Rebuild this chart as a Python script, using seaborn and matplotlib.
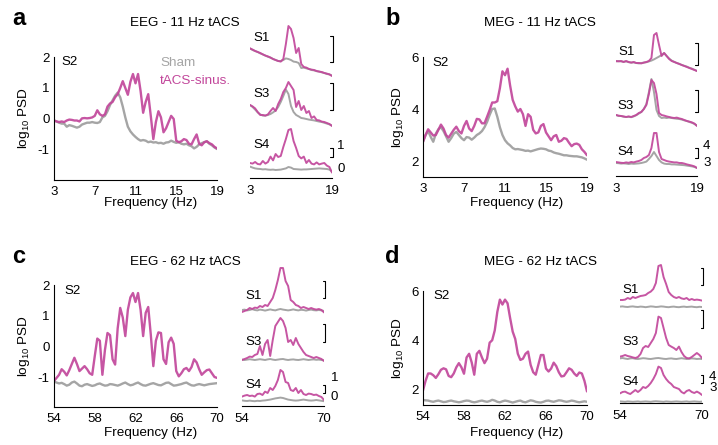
import numpy as np
import matplotlib
matplotlib.use("Agg")
import matplotlib.pyplot as plt
import seaborn as sns

sns.set_style("white")
plt.rcParams['font.family'] = ['Liberation Sans', 'DejaVu Sans']
plt.rcParams['mathtext.fontset'] = 'custom'
plt.rcParams['mathtext.rm'] = 'Liberation Sans'
plt.rcParams['mathtext.it'] = 'Liberation Sans:italic'
plt.rcParams['axes.unicode_minus'] = False
plt.rcParams['text.color'] = 'black'
plt.rcParams['axes.labelcolor'] = 'black'
plt.rcParams['xtick.color'] = 'black'
plt.rcParams['ytick.color'] = 'black'

# ---------------- data ----------------
freq_alpha = np.linspace(3, 19, 65)      # 0.25 Hz grid, main panels a/b
freq_gamma = np.linspace(54, 70, 65)     # 0.25 Hz grid, main panels c/d
freq_alpha_in = np.linspace(3, 19, 33)   # 0.5 Hz grid, insets
freq_gamma_in = np.linspace(54, 70, 33)

# panel a (EEG 11 Hz, S2)
a_tacs = [-0.05, -0.08, -0.10, -0.08, -0.10, -0.05, -0.02, -0.03,
          -0.05, -0.05, -0.08, 0.02, 0.03, 0.02, 0.03, 0.05,
          0.10, 0.28, 0.15, 0.10, 0.15, 0.40, 0.50, 0.55,
          0.70, 0.80, 1.00, 1.22, 1.00, 0.78, 1.20, 1.45,
          1.15, 1.45, 0.90, 0.20, 0.55, 0.80, 0.10, -0.65,
          -0.10, 0.25, 0.05, -0.43, -0.30, -0.10, 0.10, 0.00,
          -0.70, -0.75, -0.72, -0.65, -0.68, -0.80, -0.82, -0.65,
          -0.50, -0.80, -0.85, -0.75, -0.72, -0.78, -0.82, -0.90,
          -0.95]
a_sham = [-0.05, -0.08, -0.12, -0.15, -0.15, -0.25, -0.20, -0.22,
          -0.25, -0.28, -0.25, -0.18, -0.15, -0.12, -0.12, -0.10,
          -0.12, -0.13, -0.10, 0.05, 0.10, 0.25, 0.45, 0.60,
          0.75, 0.85, 0.70, 0.40, 0.05, -0.25, -0.40, -0.50,
          -0.58, -0.65, -0.70, -0.68, -0.70, -0.75, -0.73, -0.76,
          -0.75, -0.78, -0.77, -0.80, -0.76, -0.75, -0.70, -0.74,
          -0.77, -0.75, -0.80, -0.82, -0.80, -0.85, -0.88, -0.95,
          -0.90, -0.82, -0.78, -0.75, -0.72, -0.80, -0.85, -0.92,
          -0.97]

# panel b (MEG 11 Hz, S2)
b_tacs = [2.74, 3.00, 3.22, 3.10, 2.98, 3.00, 3.20, 3.40,
          3.25, 3.00, 2.90, 3.05, 3.20, 3.32, 3.15, 3.06,
          3.35, 3.54, 3.25, 3.15, 3.35, 3.62, 3.60, 3.45,
          3.45, 3.70, 3.96, 4.25, 4.25, 4.30, 4.80, 5.45,
          5.30, 5.55, 4.90, 4.35, 4.10, 3.90, 4.00, 3.80,
          3.35, 3.80, 3.70, 3.20, 3.06, 3.10, 3.35, 3.42,
          3.10, 2.95, 2.80, 2.95, 3.00, 2.74, 2.78, 2.88,
          2.85, 2.70, 2.57, 2.65, 2.67, 2.62, 2.45, 2.35,
          2.22]
b_sham = [2.74, 3.00, 3.15, 2.93, 2.74, 3.05, 3.22, 3.30,
          3.15, 2.95, 2.74, 2.88, 3.05, 3.12, 3.00, 2.88,
          2.80, 2.92, 2.90, 2.82, 2.90, 3.00, 3.06, 3.15,
          3.30, 3.50, 3.77, 4.00, 4.02, 3.70, 3.30, 3.00,
          2.80, 2.68, 2.60, 2.50, 2.45, 2.46, 2.44, 2.42,
          2.39, 2.40, 2.37, 2.40, 2.43, 2.46, 2.48, 2.47,
          2.45, 2.40, 2.38, 2.33, 2.30, 2.28, 2.25, 2.22,
          2.22, 2.20, 2.19, 2.18, 2.18, 2.16, 2.14, 2.10,
          2.05]

# panel c (EEG 62 Hz, S2)
c_tacs = [-1.10, -1.00, -0.90, -0.72, -0.80, -0.92, -0.75, -0.55,
          -0.35, -0.55, -0.78, -0.70, -0.62, -0.72, -0.85, -0.90,
          -0.30, 0.27, 0.20, -0.90, -0.10, 0.45, 0.38, -0.40,
          -0.57, 0.60, 1.26, 0.95, 0.35, 1.20, 1.60, 1.74,
          1.45, 1.74, 1.20, 0.35, 1.10, 1.29, 0.40, -0.62,
          0.20, 0.47, 0.45, -0.40, -0.55, 0.15, 0.30, 0.10,
          -0.78, -0.95, -0.85, -0.72, -0.68, -0.78, -0.65, -0.40,
          -0.50, -0.72, -0.90, -0.82, -0.75, -0.73, -0.85, -0.97,
          -1.00]
c_sham = [-1.12, -1.15, -1.18, -1.16, -1.20, -1.25, -1.22, -1.15,
          -1.12, -1.18, -1.25, -1.27, -1.22, -1.20, -1.23, -1.26,
          -1.24, -1.20, -1.18, -1.22, -1.25, -1.24, -1.20, -1.21,
          -1.23, -1.25, -1.22, -1.18, -1.15, -1.20, -1.24, -1.22,
          -1.18, -1.15, -1.20, -1.24, -1.25, -1.22, -1.19, -1.17,
          -1.20, -1.23, -1.24, -1.20, -1.16, -1.15, -1.20, -1.25,
          -1.24, -1.22, -1.20, -1.17, -1.15, -1.20, -1.24, -1.25,
          -1.22, -1.20, -1.22, -1.24, -1.22, -1.20, -1.19, -1.18,
          -1.17]

# panel d (MEG 62 Hz, S2)
d_tacs = [1.96, 2.35, 2.65, 2.65, 2.58, 2.47, 2.62, 2.80,
          2.86, 2.82, 2.55, 2.50, 2.65, 2.90, 3.07, 2.90,
          2.64, 3.30, 3.45, 3.10, 2.60, 3.45, 3.57, 3.30,
          3.07, 3.25, 3.90, 4.00, 4.40, 5.15, 5.65, 5.45,
          5.65, 5.50, 4.90, 4.35, 4.05, 3.45, 3.20, 3.25,
          3.45, 3.54, 3.00, 2.70, 2.60, 3.00, 3.40, 3.40,
          2.85, 2.73, 2.85, 3.09, 2.95, 2.70, 2.53, 2.55,
          2.70, 2.86, 2.80, 2.65, 2.55, 2.69, 2.65, 2.35,
          1.92]
d_sham = [1.57, 1.56, 1.55, 1.52, 1.50, 1.53, 1.55, 1.52,
          1.49, 1.50, 1.53, 1.55, 1.52, 1.50, 1.48, 1.50,
          1.53, 1.55, 1.54, 1.50, 1.48, 1.50, 1.53, 1.55,
          1.52, 1.50, 1.53, 1.58, 1.55, 1.50, 1.48, 1.52,
          1.55, 1.53, 1.50, 1.47, 1.50, 1.53, 1.55, 1.50,
          1.48, 1.52, 1.56, 1.54, 1.50, 1.48, 1.47, 1.50,
          1.54, 1.55, 1.52, 1.50, 1.53, 1.56, 1.55, 1.52,
          1.50, 1.52, 1.55, 1.53, 1.50, 1.48, 1.50, 1.52,
          1.50]

# insets (relative log10 PSD, scale bar = 1 unit)
a_s1_tacs = [1.58, 1.52, 1.45, 1.40, 1.35, 1.28, 1.22, 1.18, 1.12, 1.05, 1.00, 0.95, 0.92, 1.05, 1.80, 2.70,
             2.55, 2.10, 1.35, 1.60, 0.80, 0.65, 0.62, 0.55, 0.52, 0.50, 0.45, 0.42, 0.40, 0.35, 0.32, 0.28, 0.20]
a_s1_sham = [1.58, 1.50, 1.45, 1.40, 1.33, 1.28, 1.22, 1.16, 1.12, 1.05, 1.00, 0.95, 0.95, 1.00, 1.08, 1.05,
             1.00, 0.92, 0.90, 0.85, 0.60, 0.62, 0.58, 0.55, 0.50, 0.48, 0.44, 0.42, 0.38, 0.35, 0.30, 0.28, 0.22]
a_s3_tacs = [1.25, 1.18, 1.08, 0.90, 0.75, 0.75, 0.72, 0.78, 0.95, 1.10, 0.95, 1.30, 1.55, 1.90, 2.10, 2.40,
             2.20, 2.00, 1.15, 1.45, 1.00, 1.20, 0.85, 0.95, 0.60, 0.68, 0.50, 0.48, 0.42, 0.40, 0.35, 0.30, 0.20]
a_s3_sham = [1.25, 1.15, 1.02, 0.88, 0.78, 0.72, 0.72, 0.75, 0.80, 0.88, 0.98, 1.15, 1.40, 1.70, 2.02, 1.80,
             1.20, 0.90, 0.75, 0.68, 0.60, 0.58, 0.55, 0.52, 0.50, 0.48, 0.45, 0.42, 0.40, 0.36, 0.32, 0.28, 0.22]
a_s4_tacs = [0.75, 0.72, 0.80, 0.70, 0.68, 0.85, 0.72, 0.80, 1.07, 0.88, 1.20, 1.05, 1.10, 1.55, 1.95, 2.40,
             2.45, 1.85, 1.50, 1.10, 0.98, 1.07, 0.75, 0.90, 0.72, 0.68, 0.78, 0.68, 0.72, 0.75, 0.62, 0.55, 0.27]
a_s4_sham = [0.57, 0.52, 0.48, 0.46, 0.45, 0.43, 0.44, 0.42, 0.41, 0.42, 0.40, 0.41, 0.42, 0.45, 0.48, 0.55,
             0.52, 0.45, 0.44, 0.43, 0.42, 0.43, 0.43, 0.44, 0.45, 0.46, 0.47, 0.48, 0.47, 0.46, 0.45, 0.42, 0.32]

b_s1_tacs = [0.70, 0.68, 0.70, 0.65, 0.70, 0.65, 0.62, 0.65, 0.60, 0.60, 0.58, 0.62, 0.65, 0.70, 0.85, 2.00,
             2.10, 1.50, 0.95, 1.10, 0.95, 0.80, 0.70, 0.65, 0.60, 0.55, 0.50, 0.45, 0.40, 0.35, 0.30, 0.25, 0.20]
b_s1_sham = [0.68, 0.70, 0.68, 0.66, 0.68, 0.64, 0.62, 0.63, 0.60, 0.58, 0.60, 0.62, 0.64, 0.68, 0.72, 0.78,
             0.85, 0.92, 1.00, 1.10, 0.95, 0.82, 0.72, 0.66, 0.60, 0.56, 0.50, 0.46, 0.42, 0.36, 0.32, 0.26, 0.20]
b_s3_tacs = [0.75, 0.72, 0.70, 0.68, 0.65, 0.68, 0.65, 0.70, 0.75, 0.85, 0.90, 1.05, 1.25, 1.80, 2.50, 2.35,
             1.80, 0.85, 0.75, 0.72, 0.68, 0.65, 0.62, 0.60, 0.62, 0.58, 0.55, 0.50, 0.45, 0.42, 0.38, 0.32, 0.20]
b_s3_sham = [0.75, 0.70, 0.70, 0.66, 0.65, 0.66, 0.64, 0.68, 0.74, 0.82, 0.90, 1.05, 1.30, 1.90, 2.55, 1.90,
             1.00, 0.70, 0.60, 0.62, 0.60, 0.62, 0.60, 0.58, 0.56, 0.55, 0.52, 0.48, 0.45, 0.40, 0.36, 0.30, 0.22]
b_s4_tacs = [0.70, 0.68, 0.66, 0.65, 0.68, 0.66, 0.70, 0.68, 0.72, 0.75, 0.80, 0.90, 0.95, 1.05, 1.40, 2.15,
             2.15, 1.20, 0.85, 0.80, 0.75, 0.72, 0.70, 0.68, 0.68, 0.65, 0.65, 0.62, 0.58, 0.55, 0.52, 0.48, 0.40]
b_s4_sham = [0.65, 0.64, 0.62, 0.63, 0.62, 0.60, 0.62, 0.61, 0.62, 0.63, 0.65, 0.68, 0.72, 0.85, 1.00, 1.20,
             1.00, 0.80, 0.68, 0.62, 0.60, 0.60, 0.58, 0.58, 0.57, 0.56, 0.55, 0.54, 0.52, 0.50, 0.48, 0.45, 0.40]

c_s1_tacs = [0.30, 0.35, 0.40, 0.50, 0.45, 0.52, 0.50, 0.60, 0.55, 0.65, 0.60, 0.80, 1.00, 1.40, 1.90, 2.50,
             2.50, 1.85, 1.60, 0.90, 0.80, 0.65, 0.60, 0.50, 0.55, 0.50, 0.45, 0.50, 0.45, 0.42, 0.45, 0.40, 0.28]
c_s1_sham = [0.40, 0.42, 0.38, 0.40, 0.44, 0.40, 0.38, 0.42, 0.40, 0.37, 0.40, 0.43, 0.40, 0.38, 0.42, 0.45,
             0.42, 0.40, 0.38, 0.40, 0.43, 0.40, 0.38, 0.41, 0.40, 0.37, 0.40, 0.42, 0.39, 0.38, 0.40, 0.38, 0.35]
c_s3_tacs = [0.10, 0.15, 0.20, 0.27, 0.25, 0.35, 0.40, 0.80, 0.35, 0.90, 1.10, 0.30, 1.10, 1.80, 2.00, 2.20,
             2.05, 1.70, 1.00, 1.10, 0.85, 1.20, 0.90, 0.70, 0.50, 0.35, 0.30, 0.25, 0.20, 0.25, 0.20, 0.15, 0.05]
c_s3_sham = [0.12, 0.10, 0.12, 0.14, 0.12, 0.10, 0.12, 0.14, 0.12, 0.10, 0.13, 0.15, 0.12, 0.10, 0.12, 0.14,
             0.15, 0.12, 0.10, 0.12, 0.13, 0.11, 0.10, 0.12, 0.14, 0.12, 0.10, 0.12, 0.13, 0.11, 0.12, 0.10, 0.08]
c_s4_tacs = [0.47, 0.52, 0.55, 0.50, 0.52, 0.47, 0.60, 0.62, 0.55, 0.72, 0.65, 0.90, 0.80, 1.00, 1.30, 1.80,
             1.70, 1.20, 1.15, 0.80, 0.75, 0.90, 0.65, 0.80, 0.60, 0.55, 0.62, 0.60, 0.55, 0.57, 0.50, 0.45, 0.30]
c_s4_sham = [0.28, 0.26, 0.25, 0.27, 0.25, 0.24, 0.26, 0.25, 0.27, 0.28, 0.30, 0.32, 0.35, 0.38, 0.40, 0.42,
             0.40, 0.36, 0.32, 0.30, 0.28, 0.27, 0.28, 0.30, 0.32, 0.30, 0.28, 0.27, 0.28, 0.30, 0.28, 0.26, 0.24]

d_s1_tacs = [0.50, 0.50, 0.52, 0.60, 0.55, 0.65, 0.60, 0.65, 0.70, 0.72, 0.75, 0.85, 0.92, 1.05, 1.35, 2.20,
             2.25, 1.65, 1.30, 0.90, 0.75, 0.65, 0.60, 0.65, 0.58, 0.55, 0.60, 0.50, 0.55, 0.50, 0.52, 0.50, 0.47]
d_s1_sham = [0.17, 0.18, 0.16, 0.15, 0.17, 0.18, 0.16, 0.15, 0.17, 0.16, 0.14, 0.16, 0.18, 0.17, 0.15, 0.16,
             0.18, 0.17, 0.15, 0.14, 0.16, 0.17, 0.15, 0.14, 0.16, 0.17, 0.15, 0.16, 0.17, 0.15, 0.14, 0.16, 0.15]
d_s3_tacs = [0.42, 0.45, 0.50, 0.45, 0.42, 0.38, 0.35, 0.40, 0.55, 0.85, 0.95, 0.90, 1.10, 1.30, 1.60, 2.42,
             2.35, 1.85, 1.35, 1.00, 0.92, 0.85, 0.75, 0.92, 0.65, 0.45, 0.35, 0.33, 0.40, 0.50, 0.60, 0.50, 0.35]
d_s3_sham = [0.33, 0.35, 0.32, 0.30, 0.33, 0.34, 0.31, 0.30, 0.32, 0.34, 0.33, 0.31, 0.30, 0.32, 0.34, 0.35,
             0.33, 0.31, 0.30, 0.32, 0.33, 0.31, 0.30, 0.32, 0.34, 0.32, 0.30, 0.31, 0.33, 0.32, 0.30, 0.31, 0.30]
d_s4_tacs = [0.48, 0.55, 0.57, 0.50, 0.45, 0.55, 0.65, 0.55, 0.65, 0.80, 0.75, 0.85, 1.00, 1.20, 1.45, 1.82,
             1.75, 1.40, 1.20, 1.05, 0.95, 0.80, 0.75, 0.70, 0.55, 0.48, 0.60, 0.65, 0.55, 0.50, 0.57, 0.50, 0.40]
d_s4_sham = [0.08, 0.07, 0.06, 0.08, 0.07, 0.06, 0.07, 0.08, 0.06, 0.07, 0.08, 0.07, 0.06, 0.08, 0.09, 0.08,
             0.07, 0.06, 0.08, 0.07, 0.06, 0.07, 0.08, 0.07, 0.06, 0.07, 0.08, 0.06, 0.07, 0.08, 0.07, 0.06, 0.07]

titles = ["EEG - 11 Hz tACS", "MEG - 11 Hz tACS", "EEG - 62 Hz tACS", "MEG - 62 Hz tACS"]
panel_letters = ["a", "b", "c", "d"]
ticks_alpha = [3, 7, 11, 15, 19]
ticks_gamma = [54, 58, 62, 66, 70]
yticks_eeg = [-1, 0, 1, 2]
yticks_meg = [2, 4, 6]

# ---------------- style ----------------
MAG = '#C2479B'
GRAY = '#A5A5A5'
W, H = 718, 445
FS = 9.5

fig = plt.figure(figsize=(W / 100, H / 100), dpi=100)


def px_ax(x0, y0, x1, y1):
    return fig.add_axes([x0 / W, 1 - y1 / H, (x1 - x0) / W, (y1 - y0) / H])


def main_panel(box, f, tacs, sham, xticks, ylim, yticks, s2_xy, xlabel_xy):
    ax = px_ax(*box)
    sns.lineplot(x=f, y=sham, ax=ax, color=GRAY, lw=1.7)
    sns.lineplot(x=f, y=tacs, ax=ax, color=MAG, lw=1.7, alpha=0.92)
    ax.set_xlim(f[0], f[-1])
    ax.set_ylim(*ylim)
    ax.set_xticks(xticks)
    ax.set_xticklabels([str(t) for t in xticks])
    ax.set_yticks(yticks)
    ax.set_yticklabels([str(t) for t in yticks])
    for s in ['top', 'right']:
        ax.spines[s].set_visible(False)
    for s in ['left', 'bottom']:
        ax.spines[s].set_linewidth(0.8)
        ax.spines[s].set_color('black')
    ax.tick_params(direction='in', length=3, width=0.8, labelsize=FS, colors='black')
    ax.tick_params(axis='x', pad=4)
    ax.tick_params(axis='y', pad=3)
    ax.set_xlabel('Frequency (Hz)', fontsize=9.7)
    ax.xaxis.label.set_va('center')
    ax.xaxis.set_label_coords(xlabel_xy[0] / W, 1 - xlabel_xy[1] / H, transform=fig.transFigure)
    ax.set_ylabel(r'log$_{10}$ PSD', fontsize=9.7, labelpad=4)
    ax.text(s2_xy[0], s2_xy[1], 'S2', fontsize=FS, va='center', ha='left')
    ax.patch.set_alpha(0)
    return ax


def inset(x0, x1, top, bottom, f, tacs, sham, label, label_xy, bracket, bottom_axis=False,
          xticks=None, scale_text=None):
    ax = px_ax(x0, top, x1, bottom)
    sns.lineplot(x=f, y=sham, ax=ax, color=GRAY, lw=1.4)
    sns.lineplot(x=f, y=tacs, ax=ax, color=MAG, lw=1.4, alpha=0.92)
    ax.set_xlim(f[0], f[-1])
    ax.set_ylim(0, (bottom - top) / 20)
    ax.set_xlabel('')
    ax.set_ylabel('')
    for s in ['top', 'right', 'left']:
        ax.spines[s].set_visible(False)
    ax.set_yticks([])
    if bottom_axis:
        ax.spines['bottom'].set_linewidth(0.8)
        ax.spines['bottom'].set_color('black')
        ax.set_xticks(xticks)
        ax.set_xticklabels([str(t) for t in xticks])
        ax.tick_params(axis='x', direction='in', length=3, width=0.8, labelsize=FS, pad=5, colors='black')
    else:
        ax.spines['bottom'].set_visible(False)
        ax.set_xticks([])
    ax.patch.set_alpha(0)
    ax.text(label_xy[0], label_xy[1], label, fontsize=FS, va='center', ha='left')
    xb, lo, hi = bracket
    span = f[-1] - f[0]
    ax.plot([xb - 0.025 * span, xb, xb, xb - 0.025 * span], [lo, lo, hi, hi],
            color='black', lw=0.8, clip_on=False)
    if scale_text:
        for (tx, ty, tt) in scale_text:
            ax.text(tx, ty, tt, fontsize=FS, va='center', ha='left')
    return ax


# main panels
main_panel((54, 57, 217, 180), freq_alpha, a_tacs, a_sham, ticks_alpha, (-1.97, 2.0), yticks_eeg,
           (3.7, 1.85), (151, 203))
main_panel((423, 57, 587, 177), freq_alpha, b_tacs, b_sham, ticks_alpha, (1.385, 6.0), yticks_meg,
           (3.9, 5.77), (517, 203))
main_panel((54, 285, 217, 407), freq_gamma, c_tacs, c_sham, ticks_gamma, (-1.94, 2.0), yticks_eeg,
           (55.0, 1.8), (151, 433))
main_panel((423, 291, 587, 405), freq_gamma, d_tacs, d_sham, ticks_gamma, (1.37, 6.0), yticks_meg,
           (55.0, 5.8), (517, 433))

# legend text in panel a
fig.text(160 / W, 1 - 63 / H, 'Sham', color=GRAY, fontsize=9.7, va='center', ha='left')
fig.text(160 / W, 1 - 81 / H, 'tACS-sinus.', color=MAG, fontsize=9.7, va='center', ha='left')

# insets panel a
inset(250, 332, 20, 80, freq_alpha_in, a_s1_tacs, a_s1_sham, 'S1', (3.6, 2.1), (19.1, 0.9, 2.2))
inset(250, 332, 78, 130, freq_alpha_in, a_s3_tacs, a_s3_sham, 'S3', (3.6, 1.8), (19.1, 1.0, 2.35))
inset(250, 332, 122, 178, freq_alpha_in, a_s4_tacs, a_s4_sham, 'S4', (3.6, 1.65), (19.1, 1.05, 1.5),
      bottom_axis=True, xticks=[3, 19], scale_text=[(20.0, 1.6, '1'), (20.0, 0.45, '0')])
# insets panel b
inset(616, 697, 20, 75, freq_alpha_in, b_s1_tacs, b_s1_sham, 'S1', (3.4, 1.15), (19.1, 0.5, 1.6))
inset(616, 697, 70, 130, freq_alpha_in, b_s3_tacs, b_s3_sham, 'S3', (3.2, 1.2), (19.1, 0.9, 2.0))
inset(616, 697, 125, 176, freq_alpha_in, b_s4_tacs, b_s4_sham, 'S4', (3.2, 1.2), (19.1, 0.9, 1.4),
      bottom_axis=True, xticks=[3, 19], scale_text=[(20.2, 1.5, '4'), (20.2, 0.65, '3')])
# insets panel c
inset(242, 324, 260, 318, freq_gamma_in, c_s1_tacs, c_s1_sham, 'S1', (54.6, 1.1), (70.2, 1.0, 1.85))
inset(242, 324, 310, 362, freq_gamma_in, c_s3_tacs, c_s3_sham, 'S3', (54.6, 1.0), (70.2, 1.0, 1.9))
inset(242, 324, 355, 406, freq_gamma_in, c_s4_tacs, c_s4_sham, 'S4', (54.6, 1.05), (70.2, 0.65, 1.05),
      bottom_axis=True, xticks=[54, 70], scale_text=[(71.3, 1.4, '1'), (71.3, 0.45, '0')])
# insets panel d
inset(620, 702, 255, 310, freq_gamma_in, d_s1_tacs, d_s1_sham, 'S1', (54.4, 1.0), (70.2, 1.25, 2.1))
inset(620, 702, 305, 365, freq_gamma_in, d_s3_tacs, d_s3_sham, 'S3', (54.4, 1.15), (70.2, 1.85, 2.75))
inset(620, 702, 355, 403, freq_gamma_in, d_s4_tacs, d_s4_sham, 'S4', (54.4, 1.05), (70.2, 1.0, 1.4),
      bottom_axis=True, xticks=[54, 70], scale_text=[(71.4, 1.3, '4'), (71.4, 0.75, '3')])

# titles and panel letters
for (tx, ty), t in zip([(185, 26), (540, 26), (185, 265), (540, 265)], titles):
    fig.text(tx / W, 1 - ty / H, t, fontsize=9.7, ha='center', va='baseline')
for (lx, ly), l in zip([(12, 25), (385, 25), (12, 263), (385, 263)], panel_letters):
    fig.text(lx / W, 1 - ly / H, l, fontsize=17, fontweight='bold', ha='left', va='baseline')

fig.savefig('out.png', dpi=100)
